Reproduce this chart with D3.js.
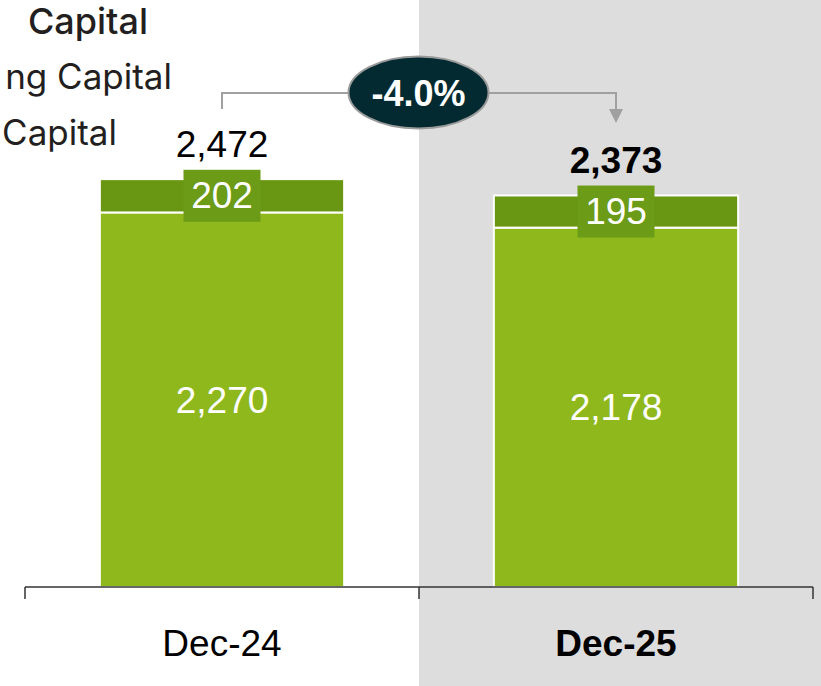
<!DOCTYPE html>
<html>
<head>
<meta charset="utf-8">
<script src="https://cdn.jsdelivr.net/npm/d3@7"></script>
<style>
  html, body { margin: 0; padding: 0; background: #ffffff; }
  svg { display: block; }
</style>
</head>
<body>
<div id="chart"></div>
<script>
// ---- data ----
const categories = ["Dec-24", "Dec-25"];
const baseValues = [2270, 2178];   // lower segment
const topValues = [202, 195];      // upper segment
const totals = [2472, 2373];
const changeLabel = "-4.0%";
const titleText = "Capital";
const legendLabels = ["ng Capital", "Capital"];

// ---- layout ----
const W = 821, H = 686;
const svg = d3.select("#chart").append("svg").attr("width", W).attr("height", H);

const x = d3.scaleBand().domain(categories).range([25, 813]).paddingInner(0).paddingOuter(0);
const y = d3.scaleLinear().domain([0, 3000]).range([587, 92]);
const barFrac = 0.62;
const bw = x.bandwidth() * barFrac;
const bx = c => x(c) + (x.bandwidth() - bw) / 2;
const cx = c => x(c) + x.bandwidth() / 2;

// highlighted background for last category
svg.append("rect")
  .attr("x", x(categories[1])).attr("y", 0)
  .attr("width", W - x(categories[1])).attr("height", H)
  .attr("fill", "#dddddd");

// title and legend text
const textFont = "Inter, 'Noto Sans', sans-serif";
svg.append("text").attr("x", 148).attr("y", 34).attr("text-anchor", "end")
  .attr("font-family", textFont).attr("font-size", 36).attr("font-weight", 500)
  .attr("fill", "#231f20").text(titleText);
svg.selectAll("text.legend").data(legendLabels).enter().append("text")
  .attr("class", "legend")
  .attr("x", (d, i) => i === 0 ? 172 : 117)
  .attr("y", (d, i) => i === 0 ? 89 : 145)
  .attr("text-anchor", "end")
  .attr("font-family", textFont).attr("font-size", 35).attr("font-weight", 400)
  .attr("fill", "#231f20").text(d => d);

const numFont = "'Liberation Sans', Arial, sans-serif";

// bars
const colLow = "#8fb81d", colTop = "#6a9713", colBox = "#6b9b17";
const g = svg.append("g");
categories.forEach((c, i) => {
  g.append("rect")
    .attr("x", bx(c)).attr("y", y(baseValues[i]))
    .attr("width", bw).attr("height", y(0) - y(baseValues[i]))
    .attr("fill", colLow).attr("stroke", "#ffffff").attr("stroke-width", 2);
  g.append("rect")
    .attr("x", bx(c)).attr("y", y(baseValues[i] + topValues[i]))
    .attr("width", bw).attr("height", y(baseValues[i]) - y(baseValues[i] + topValues[i]))
    .attr("fill", colTop).attr("stroke", "#ffffff").attr("stroke-width", 2);

  const lowMid = (y(0) + y(baseValues[i])) / 2;
  g.append("text").attr("x", cx(c)).attr("y", lowMid + 13)
    .attr("text-anchor", "middle").attr("font-family", numFont).attr("font-size", 37)
    .attr("fill", "#ffffff").text(d3.format(",")(baseValues[i]));

  const topMid = (y(baseValues[i]) + y(baseValues[i] + topValues[i])) / 2;
  g.append("rect")
    .attr("x", cx(c) - 38.5).attr("y", topMid - 26)
    .attr("width", 77).attr("height", 52)
    .attr("fill", colBox);
  g.append("text").attr("x", cx(c)).attr("y", topMid + 12.5)
    .attr("text-anchor", "middle").attr("font-family", numFont).attr("font-size", 37)
    .attr("fill", "#ffffff").text(d3.format(",")(topValues[i]));

  g.append("text").attr("x", cx(c)).attr("y", y(totals[i]) - 22)
    .attr("text-anchor", "middle").attr("font-family", numFont).attr("font-size", 37)
    .attr("font-weight", i === 1 ? 700 : 400)
    .attr("fill", "#000000").text(d3.format(",")(totals[i]));

  g.append("text").attr("x", cx(c)).attr("y", 656)
    .attr("text-anchor", "middle").attr("font-family", numFont).attr("font-size", 37)
    .attr("font-weight", i === 1 ? 700 : 400)
    .attr("fill", "#000000").text(c);
});

// x axis with ticks at band boundaries
const axisG = svg.append("g");
const [x0, x1] = x.range();
axisG.append("line").attr("x1", x0).attr("x2", x1).attr("y1", y(0)).attr("y2", y(0))
  .attr("stroke", "#333333").attr("stroke-width", 1.5);
const tickXs = categories.map(c => x(c)).concat([x1]);
axisG.selectAll("line.tick").data(tickXs).enter().append("line")
  .attr("class", "tick")
  .attr("x1", d => d).attr("x2", d => d).attr("y1", y(0)).attr("y2", y(0) + 12)
  .attr("stroke", "#333333").attr("stroke-width", 1.5);

// change connector
const lineY = 93;
const ex = x(categories[1]) - 0.5, ey = 92.5;
const conn = svg.append("g");
conn.append("path")
  .attr("d", `M${cx(categories[0])},${y(totals[0]) - 70} V${lineY} H${ex}`)
  .attr("fill", "none").attr("stroke", "#a0a0a0").attr("stroke-width", 2);
conn.append("path")
  .attr("d", `M${ex},${lineY} H${cx(categories[1])} V${110}`)
  .attr("fill", "none").attr("stroke", "#a0a0a0").attr("stroke-width", 2);
conn.append("path")
  .attr("d", `M${cx(categories[1]) - 7},109 L${cx(categories[1]) + 7},109 L${cx(categories[1])},123 Z`)
  .attr("fill", "#a0a0a0");
conn.append("ellipse")
  .attr("cx", ex).attr("cy", ey).attr("rx", 70).attr("ry", 36)
  .attr("fill", "#022a30").attr("stroke", "#9a9a9a").attr("stroke-width", 2);
conn.append("text").attr("x", ex).attr("y", ey + 13)
  .attr("text-anchor", "middle").attr("font-family", numFont).attr("font-size", 36)
  .attr("font-weight", 700).attr("fill", "#ffffff").text(changeLabel);
</script>
</body>
</html>
